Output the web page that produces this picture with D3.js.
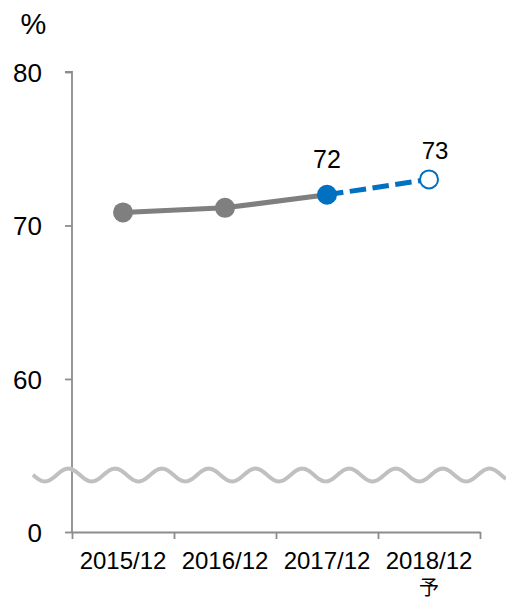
<!DOCTYPE html>
<html>
<head>
<meta charset="utf-8">
<script src="https://cdn.jsdelivr.net/npm/d3@7"></script>
<style>
  html, body { margin: 0; padding: 0; background: #fff; }
  svg { display: block; }
  text { font-family: "Liberation Sans", Arial, sans-serif; fill: #000; }
</style>
</head>
<body>
<svg id="chart" width="506" height="600"></svg>
<script>
// Year-end values (%), the last one is a forecast
const categories = ["2015/12", "2016/12", "2017/12", "2018/12"];
const subLabels = ["", "", "", "予"];
const actualValues = [70.85, 71.15, 72];
const forecastValues = [72, 73];
const valueLabels = ["", "", "72", "73"];
const yTicks = [0, 60, 70, 80];
const yUnit = "%";

const svg = d3.select("#chart");

const x = d3.scaleBand().domain(categories).range([72, 480]).padding(0);
// Broken axis: 0 sits at the bottom, the 60–80 range is stretched above the break
const y = d3.scaleLinear().domain([0, 57, 80]).range([532, 425, 72]);
const boundary = d3.scaleLinear().domain([0, categories.length]).range([72, 480]);

const axisColor = "#8c8c8c";
const cx = d => x(d) + x.bandwidth() / 2;

// Y axis
const yAxis = svg.append("g").attr("transform", "translate(72,0)")
  .call(d3.axisLeft(y).tickValues(yTicks).tickSize(7).tickSizeOuter(7).tickPadding(23));
yAxis.select(".domain").attr("stroke", axisColor).attr("stroke-width", 1.8)
  .attr("d", `M-7,${y(80)}H0V${y(0)}`);
yAxis.selectAll(".tick line").attr("stroke", axisColor).attr("stroke-width", 1.8);
yAxis.selectAll(".tick text").style("font-size", "26px").attr("dy", "0.35em")
  .style("font-family", "Liberation Sans, Arial, sans-serif").attr("fill", "#000");

svg.append("text").attr("x", 33.5).attr("y", 34).attr("text-anchor", "middle")
  .style("font-size", "29px").text(yUnit);

// X axis: boundary ticks between categories
const xBounds = svg.append("g").attr("transform", `translate(0,${y(0)})`)
  .call(d3.axisBottom(boundary).tickValues(d3.range(categories.length + 1))
    .tickFormat("").tickSize(7).tickSizeOuter(0));
xBounds.select(".domain").attr("stroke", axisColor).attr("stroke-width", 1.8);
xBounds.selectAll(".tick line").attr("stroke", axisColor).attr("stroke-width", 1.8);

// X axis: category labels
const xLabels = svg.append("g").attr("transform", `translate(0,${y(0)})`)
  .call(d3.axisBottom(x).tickSize(0).tickPadding(0));
xLabels.select(".domain").remove();
xLabels.selectAll(".tick text").remove();
xLabels.selectAll(".tick").each(function(d, i) {
  const g = d3.select(this);
  g.append("text").attr("y", 37).attr("text-anchor", "middle")
    .style("font-size", "24px").text(d);
  if (subLabels[i]) {
    g.append("text").attr("y", 63).attr("text-anchor", "middle")
      .style("font-size", "20px").style("font-family", "'Noto Sans CJK JP', sans-serif")
      .text(subLabels[i]);
  }
});

// Axis break wave
const waveY = 475, amp = 6.4, period = 46.8, phase0 = 68.3;
const wavePts = d3.range(33, 507, 1).map(px => [px, waveY - amp * Math.cos(2 * Math.PI * (px - phase0) / period)]);
svg.append("path").attr("d", d3.line()(wavePts))
  .attr("fill", "none").attr("stroke", "#c0c0c0").attr("stroke-width", 4);

// Actual series
const actualPts = actualValues.map((v, i) => [cx(categories[i]), y(v)]);
svg.append("path").attr("d", d3.line()(actualPts))
  .attr("fill", "none").attr("stroke", "#7f7f7f").attr("stroke-width", 5);

// Forecast segment
const fcPts = forecastValues.map((v, i) => [cx(categories[2 + i]), y(v)]);
svg.append("path").attr("d", d3.line()(fcPts))
  .attr("fill", "none").attr("stroke", "#0070c0").attr("stroke-width", 5)
  .attr("stroke-dasharray", "16.5,6.5");

// Markers
svg.selectAll("circle.act").data(actualValues).join("circle")
  .attr("class", "act")
  .attr("cx", (d, i) => cx(categories[i])).attr("cy", d => y(d)).attr("r", 10)
  .attr("fill", (d, i) => i === actualValues.length - 1 ? "#0070c0" : "#7f7f7f");
svg.append("circle")
  .attr("cx", cx(categories[3])).attr("cy", y(forecastValues[1])).attr("r", 9)
  .attr("fill", "#fff").attr("stroke", "#0070c0").attr("stroke-width", 2);

// Value labels
const allValues = [actualValues[0], actualValues[1], actualValues[2], forecastValues[1]];
const labelStyle = { 2: { dx: 0, dy: -27, size: 25 }, 3: { dx: 6, dy: -20, size: 24 } };
valueLabels.forEach((t, i) => {
  if (!t) return;
  const s = labelStyle[i];
  svg.append("text").attr("x", cx(categories[i]) + s.dx).attr("y", y(allValues[i]) + s.dy)
    .attr("text-anchor", "middle").style("font-size", s.size + "px").text(t);
});
</script>
</body>
</html>
